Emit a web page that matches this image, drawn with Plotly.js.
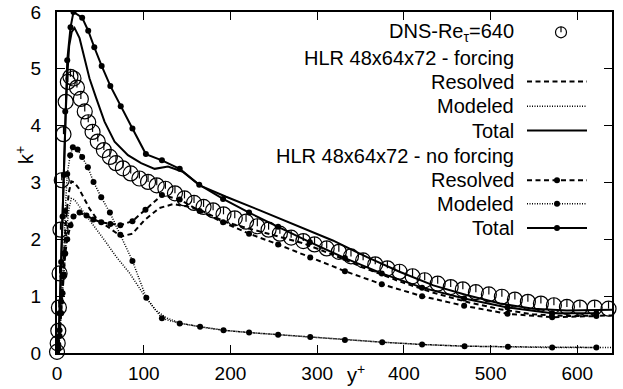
<!DOCTYPE html>
<html>
<head>
<meta charset="utf-8">
<script src="https://cdn.plot.ly/plotly-3.0.1.min.js"></script>
<style>html,body{margin:0;padding:0;background:#fff}#chart{width:623px;height:389px}</style>
</head>
<body>
<div id="chart"></div>
<script>
// ---------- DATA ----------
const dnsX = [0,0.8,1.5,2.2,3,4,5.5,7.5,10,12.5,15.5,19,23,27.5,32,36,41,47,54,61,68,76,85,95,105,115,125,136,147,158,169,180,192,205,218,231,244,257,270,284,297,311,325,339,353,367,381,395,410,424,439,454,468,483,498,513,528,543,558,573,588,603,620,636];
const dnsY = [0.02,0.17,0.39,0.8,1.4,2.17,3.04,3.85,4.42,4.77,4.86,4.83,4.67,4.47,4.25,4.06,3.89,3.72,3.57,3.45,3.34,3.25,3.16,3.07,3.01,2.95,2.89,2.81,2.72,2.64,2.57,2.51,2.44,2.37,2.31,2.23,2.17,2.10,2.03,1.97,1.91,1.84,1.78,1.70,1.63,1.56,1.49,1.43,1.35,1.28,1.22,1.16,1.12,1.07,1.03,0.99,0.94,0.90,0.87,0.84,0.81,0.80,0.80,0.78];

const fResX = [0,2,4,6,8,10,12,14,16.5,20,25,30,37.5,45,53,64,74,87,101,118,134,149,164.5,195,234,284,318,357,395,434,472,511,549,588,640];
const fResY = [0,0.2,0.7,1.3,1.8,2.25,2.6,2.85,3.02,3.0,2.9,2.75,2.54,2.38,2.28,2.16,2.05,2.1,2.34,2.55,2.62,2.58,2.52,2.30,2.14,1.93,1.73,1.48,1.26,1.06,0.90,0.77,0.68,0.65,0.66];

const fModX = [0,2,4,6,8,10,12,14,16.5,20,25,35,45,55,68,84,99,114,126,141,165,192,221,255,292,332,375,421,470,520,571,622,640];
const fModY = [0,0.1,0.5,1.0,1.5,1.95,2.3,2.55,2.72,2.70,2.6,2.4,2.2,1.98,1.7,1.4,1.05,0.75,0.62,0.53,0.46,0.40,0.36,0.32,0.28,0.23,0.19,0.15,0.12,0.11,0.10,0.095,0.095];

const fTotX = [0,2,4,6,8,10,12,14,17,20.2,26,31.8,37.5,45.3,54.8,66.4,81.8,97,112.6,128,145,164.5,195,234,280,318,357,395,434,472,511,549,588,640];
const fTotY = [0,0.3,1.2,2.3,3.3,4.2,4.9,5.4,5.65,5.72,5.54,5.18,4.83,4.48,4.07,3.72,3.48,3.34,3.24,3.28,3.19,2.95,2.75,2.51,2.22,1.98,1.69,1.43,1.19,1.02,0.87,0.78,0.75,0.76];

const nResX = [0,1.5,3,4.8,6.4,7.9,9.5,11.8,15.6,19,26,34,42,51,61.5,73,87,102,121,141.5,164.5,191.5,221.5,255,292,332,374.5,421,469.5,519.5,571,622];
const nResY = [0,0.07,0.3,0.7,1.05,1.38,1.75,2.0,2.25,2.40,2.47,2.42,2.35,2.30,2.27,2.25,2.32,2.52,2.78,2.70,2.50,2.30,2.10,1.91,1.68,1.44,1.21,1.00,0.83,0.69,0.63,0.65];

const nModX = [0,1.5,3,4.8,6.4,7.9,9.5,11.8,15.2,18.3,23.7,29,35.6,42.1,51,61,73,87,103,121,141.5,165,192,221.5,255,292,332,375,421,470,520,571,622];
const nModY = [0,0.08,0.4,0.9,1.35,1.75,2.5,3.15,3.48,3.62,3.58,3.45,3.27,3.01,2.74,2.47,2.08,1.62,0.97,0.61,0.52,0.46,0.40,0.36,0.32,0.28,0.23,0.19,0.15,0.12,0.11,0.095,0.095];

const nTotX = [0,1.5,3,4.8,6.4,7.9,9.5,11.8,15.6,19,29,36,43,51.5,61.5,73.5,87,102.5,121,141.5,164,191.5,221.5,255,291.6,332,374.5,421,469.5,519.5,571,622];
const nTotY = [0,0.15,0.7,1.6,2.4,3.13,4.25,5.15,5.73,6.0,5.9,5.67,5.38,5.05,4.70,4.34,3.95,3.50,3.39,3.24,2.96,2.71,2.47,2.22,1.95,1.67,1.40,1.15,0.96,0.80,0.70,0.70];

const xTicks = [0,100,200,300,400,500,600];
const yTicks = [0,1,2,3,4,5,6];

const legendLabels = ["DNS-Re<sub>τ</sub>=640","HLR 48x64x72 - forcing","Resolved","Modeled","Total","HLR 48x64x72 - no forcing","Resolved","Modeled","Total"];

// ---------- STYLE ----------
const FONT = "Liberation Sans, Arial, sans-serif";
const DASH = "5px,3.5px";
const DOT = "1px,1.5px";
const black = "#000";

const traces = [
  {x: dnsX, y: dnsY, mode: "markers", cliponaxis: false,
   marker: {symbol: "circle-open", size: 15, color: black, line: {width: 1.2, color: black}},
   error_y: {type: "data", symmetric: false, array: dnsY.map(() => 0.13), arrayminus: dnsY.map(() => 0), width: 0, thickness: 1.2, color: black}},
  {x: fResX, y: fResY, mode: "lines", line: {color: black, width: 2, dash: DASH}},
  {x: fModX, y: fModY, mode: "lines", line: {color: black, width: 1.5, dash: DOT}},
  {x: fTotX, y: fTotY, mode: "lines", line: {color: black, width: 2}},
  {x: nResX, y: nResY, mode: "lines+markers", line: {color: black, width: 2, dash: DASH}, marker: {color: black, size: 6}},
  {x: nModX, y: nModY, mode: "lines+markers", line: {color: black, width: 1.5, dash: DOT}, marker: {color: black, size: 6}},
  {x: nTotX, y: nTotY, mode: "lines+markers", line: {color: black, width: 2}, marker: {color: black, size: 6}}
];

// legend built manually (gnuplot style: text right, sample left)
const M = {l: 57, r: 11, t: 12, b: 36};
const plotH = 389 - M.t - M.b;
const plotW = 623 - M.l - M.r;
const rowPx = [32.3, 57.5, 81.5, 106.2, 130.6, 155.5, 180.3, 203.8, 228];
const py2paper = py => 1 - (py - M.t) / plotH;
const px2paper = px => (px - M.l) / plotW;
const textRight = px2paper(516);
const sx0 = px2paper(527), sx1 = px2paper(587), sxm = px2paper(557), dnsSym = px2paper(561);

const annotations = legendLabels.map((t, i) => ({
  text: t, xref: "paper", yref: "paper", x: textRight, y: py2paper(rowPx[i]),
  xanchor: "right", yanchor: "middle", showarrow: false, font: {family: FONT, size: 20, color: black}
}));
annotations.push({text: "k<sup>+</sup>", xref: "paper", yref: "paper", x: px2paper(24), y: py2paper(155),
  xanchor: "center", yanchor: "middle", textangle: -90, showarrow: false, font: {family: FONT, size: 20, color: black}});
annotations.push({text: "y<sup>+</sup>", xref: "paper", yref: "paper", x: px2paper(356), y: py2paper(373),
  xanchor: "center", yanchor: "middle", showarrow: false, font: {family: FONT, size: 20, color: black}});

const shapes = [];
const sampleStyle = {2: {dash: DASH, width: 2}, 3: {dash: DOT, width: 1.5}, 4: {dash: "solid", width: 2},
                     6: {dash: DASH, width: 2}, 7: {dash: DOT, width: 1.5}, 8: {dash: "solid", width: 2}};
Object.keys(sampleStyle).forEach(k => {
  const i = +k, yy = py2paper(rowPx[i]);
  shapes.push({type: "line", xref: "paper", yref: "paper", x0: sx0, x1: sx1, y0: yy, y1: yy,
               line: {color: black, width: sampleStyle[k].width, dash: sampleStyle[k].dash}});
  if (i >= 6) {
    shapes.push({type: "circle", xref: "paper", yref: "paper", xsizemode: "pixel", ysizemode: "pixel",
                 xanchor: sxm, yanchor: yy, x0: -3, x1: 3, y0: -3, y1: 3, fillcolor: black, line: {width: 0}});
  }
});
{
  const yy = py2paper(rowPx[0]);
  shapes.push({type: "circle", xref: "paper", yref: "paper", xsizemode: "pixel", ysizemode: "pixel",
               xanchor: dnsSym, yanchor: yy, x0: -5.5, x1: 5.5, y0: -5.5, y1: 5.5, line: {color: black, width: 1.2}});
  shapes.push({type: "line", xref: "paper", yref: "paper", xsizemode: "pixel", ysizemode: "pixel",
               xanchor: dnsSym, yanchor: yy, x0: 0, x1: 0, y0: 0, y1: 5.5, line: {color: black, width: 1.2}});
}

const axisCommon = {showline: true, linecolor: black, linewidth: 2, mirror: "ticks", ticks: "inside",
  ticklen: 8, tickwidth: 1.2, tickcolor: black, showgrid: false, zeroline: false,
  tickfont: {family: FONT, size: 19, color: black}};

const layout = {
  width: 623, height: 389, margin: M, paper_bgcolor: "#fff", plot_bgcolor: "#fff",
  showlegend: false,
  xaxis: Object.assign({}, axisCommon, {range: [0, 640], tickvals: xTicks, ticklabelstandoff: 2}),
  yaxis: Object.assign({}, axisCommon, {range: [0, 6], tickvals: yTicks, ticklabelstandoff: 10}),
  annotations: annotations, shapes: shapes
};

Plotly.newPlot("chart", traces, layout, {staticPlot: true, displayModeBar: false});
</script>
</body>
</html>
